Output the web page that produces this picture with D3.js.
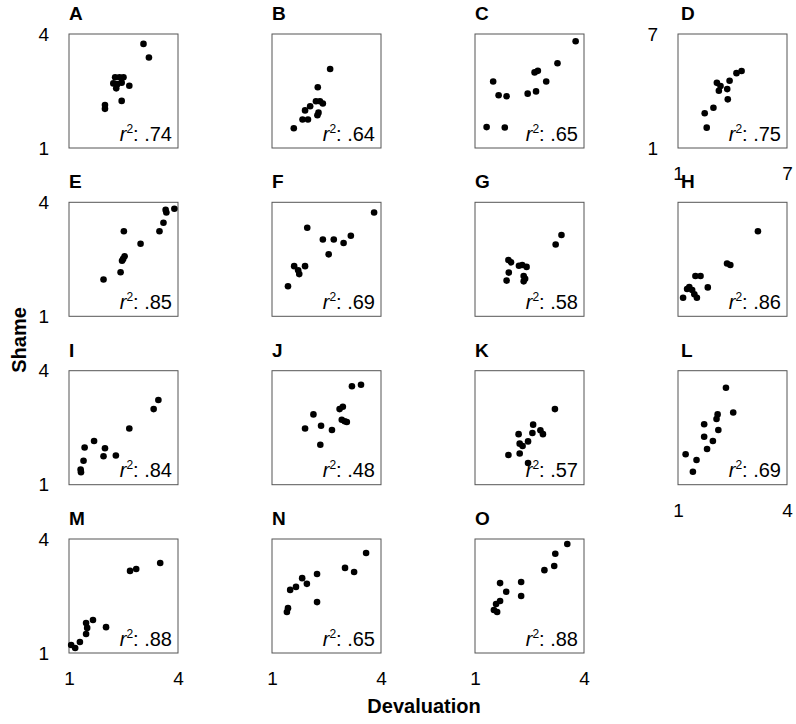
<!DOCTYPE html>
<html>
<head>
<meta charset="utf-8">
<script src="https://cdn.jsdelivr.net/npm/d3@7"></script>
<style>
  body { margin: 0; background: #fff; }
  svg { font-family: "Liberation Sans", Arial, sans-serif; }
</style>
</head>
<body>
<svg id="chart" width="796" height="724"></svg>
<script>
// panel letters and r-squared labels
const panelLabels = ['A','B','C','D','E','F','G','H','I','J','K','L','M','N','O'];
const r2Labels = ['.74','.64','.65','.75','.85','.69','.58','.86','.84','.48','.57','.69','.88','.65','.88'];

// [devaluation, shame] per panel
const ptsA = [[3.05,3.74],[3.20,3.38],[2.27,2.86],[2.39,2.86],[2.50,2.86],[2.22,2.70],[2.33,2.68],[2.45,2.72],[2.66,2.64],[2.30,2.57],[2.45,2.24],[1.99,2.13],[1.99,2.03]];
const ptsB = [[2.60,3.08],[2.26,2.60],[2.21,2.23],[2.32,2.23],[2.40,2.17],[2.05,2.10],[1.91,1.99],[2.28,1.93],[2.25,1.86],[1.84,1.75],[1.99,1.75],[1.60,1.52]];
const ptsC = [[3.77,3.81],[3.27,3.23],[2.64,2.99],[2.73,3.03],[1.50,2.75],[2.96,2.75],[1.65,2.39],[1.87,2.36],[2.45,2.43],[2.68,2.49],[1.32,1.55],[1.82,1.54]];
const ptsD = [[4.50,5.05],[4.22,4.94],[3.84,4.54],[3.14,4.43],[3.34,4.26],[3.71,4.10],[3.25,4.01],[3.74,3.56],[2.95,3.12],[2.47,2.83],[2.58,2.07]];
const ptsE = [[3.90,3.83],[3.66,3.80],[3.68,3.73],[3.60,3.46],[3.49,3.24],[2.51,3.24],[2.97,2.91],[2.53,2.58],[2.49,2.51],[2.46,2.46],[2.42,2.16],[1.95,1.97]];
const ptsF = [[3.81,3.73],[1.97,3.33],[2.40,3.02],[2.70,3.02],[3.17,3.12],[2.97,2.93],[2.56,2.63],[1.61,2.32],[1.91,2.32],[1.72,2.21],[1.75,2.11],[1.44,1.79]];
const ptsG = [[3.38,3.14],[3.22,2.89],[1.92,2.48],[1.99,2.42],[2.21,2.33],[2.30,2.35],[2.42,2.30],[1.93,2.15],[2.34,2.06],[2.38,1.99],[2.34,1.92],[1.87,1.94]];
const ptsH = [[3.20,3.24],[2.35,2.39],[2.44,2.35],[1.48,2.06],[1.62,2.06],[1.31,1.77],[1.25,1.72],[1.39,1.69],[1.82,1.76],[1.45,1.58],[1.52,1.49],[1.14,1.49]];
const ptsI = [[3.46,3.23],[3.33,2.99],[2.66,2.48],[1.69,2.15],[1.43,1.98],[1.99,1.96],[1.95,1.75],[2.29,1.77],[1.40,1.63],[1.32,1.40],[1.33,1.33]];
const ptsJ = [[3.20,3.59],[3.45,3.63],[2.95,3.05],[2.86,2.99],[2.14,2.85],[2.92,2.71],[3.00,2.67],[3.06,2.65],[2.35,2.55],[2.65,2.44],[1.91,2.48],[2.33,2.05]];
const ptsK = [[3.20,2.99],[2.60,2.58],[2.58,2.36],[2.80,2.43],[2.87,2.33],[2.20,2.33],[2.46,2.14],[2.23,2.08],[2.31,2.02],[1.92,1.78],[2.23,1.82],[2.46,1.57]];
const ptsL = [[2.32,3.55],[2.52,2.90],[2.09,2.85],[2.06,2.73],[1.72,2.59],[2.11,2.44],[1.72,2.26],[1.96,2.15],[1.80,1.94],[1.21,1.80],[1.51,1.65],[1.41,1.34]];
const ptsM = [[3.51,3.37],[2.85,3.21],[2.68,3.16],[2.02,1.68],[1.66,1.87],[1.47,1.79],[1.50,1.66],[1.47,1.50],[1.30,1.29],[1.17,1.13],[1.06,1.21]];
const ptsN = [[3.59,3.63],[3.01,3.24],[3.26,3.13],[2.24,3.08],[1.83,2.97],[1.96,2.82],[1.66,2.74],[1.50,2.66],[2.24,2.34],[1.44,2.18],[1.41,2.08]];
const ptsO = [[3.54,3.87],[3.21,3.61],[3.18,3.29],[2.91,3.18],[2.27,2.87],[1.69,2.84],[2.27,2.50],[1.86,2.61],[1.69,2.37],[1.58,2.29],[1.52,2.13],[1.61,2.08]];

const panelPoints = [ptsA,ptsB,ptsC,ptsD,ptsE,ptsF,ptsG,ptsH,ptsI,ptsJ,ptsK,ptsL,ptsM,ptsN,ptsO];

// axis ranges and tick labels
const smallDomain = [1, 4];
const wideDomain = [1, 7];   // panel D only
const smallTicks = [1, 4];
const wideTicks = [1, 7];

const svg = d3.select('#chart');
const colLeft = [69, 272, 475, 678];
const rowTop = [34, 202.3, 370.7, 539];
const pw = 109, ph = 114;
const fmt = d3.format('d');

panelLabels.forEach((label, i) => {
    const col = i % 4, row = Math.floor(i / 4);
    const isD = label === 'D';
    const dom = isD ? wideDomain : smallDomain;
    const ticks = isD ? wideTicks : smallTicks;

    const x = d3.scaleLinear().domain(dom).range([0, pw]);
    const y = d3.scaleLinear().domain(dom).range([ph, 0]);

    const g = svg.append('g').attr('transform', `translate(${colLeft[col]},${rowTop[row]})`);

    g.append('text')
        .attr('x', col === 3 ? 3 : 0)
        .attr('y', -14)
        .attr('font-size', 19)
        .attr('font-weight', 'bold')
        .text(label);

    g.append('rect')
        .attr('width', pw).attr('height', ph)
        .attr('fill', 'none').attr('stroke', '#555').attr('stroke-width', 1);

    g.selectAll('circle')
        .data(panelPoints[i])
        .join('circle')
        .attr('cx', d => x(d[0]))
        .attr('cy', d => y(d[1]))
        .attr('r', 3.3)
        .attr('fill', '#000');

    const r2 = g.append('text')
        .attr('x', pw - 6).attr('y', ph - 7.5)
        .attr('text-anchor', 'end')
        .attr('font-size', 20);
    r2.append('tspan').attr('font-style', 'italic').text('r');
    r2.append('tspan').attr('font-size', 12).attr('dy', -8).text('2');
    r2.append('tspan').attr('dy', 8).text(': ' + r2Labels[i]);

    const showY = col === 0 || isD;
    const showX = row === 3 || isD || label === 'L';

    if (showY) {
        const ay = g.append('g').call(d3.axisLeft(y).tickValues(ticks).tickFormat(fmt).tickSize(0).tickPadding(20));
        ay.select('.domain').remove();
        ay.selectAll('text').attr('font-size', 19).attr('font-family', null).attr('fill', '#000');
    }
    if (showX) {
        const ax = g.append('g').attr('transform', `translate(0,${ph})`)
            .call(d3.axisBottom(x).tickValues(ticks).tickFormat(fmt).tickSize(0).tickPadding(19));
        ax.select('.domain').remove();
        ax.selectAll('text').attr('font-size', 19).attr('font-family', null).attr('fill', '#000');
    }
});

svg.append('text')
    .attr('transform', 'translate(26,340) rotate(-90)')
    .attr('text-anchor', 'middle')
    .attr('font-size', 20).attr('font-weight', 'bold')
    .text('Shame');

svg.append('text')
    .attr('x', 424).attr('y', 713)
    .attr('text-anchor', 'middle')
    .attr('font-size', 20).attr('font-weight', 'bold')
    .text('Devaluation');
</script>
</body>
</html>
